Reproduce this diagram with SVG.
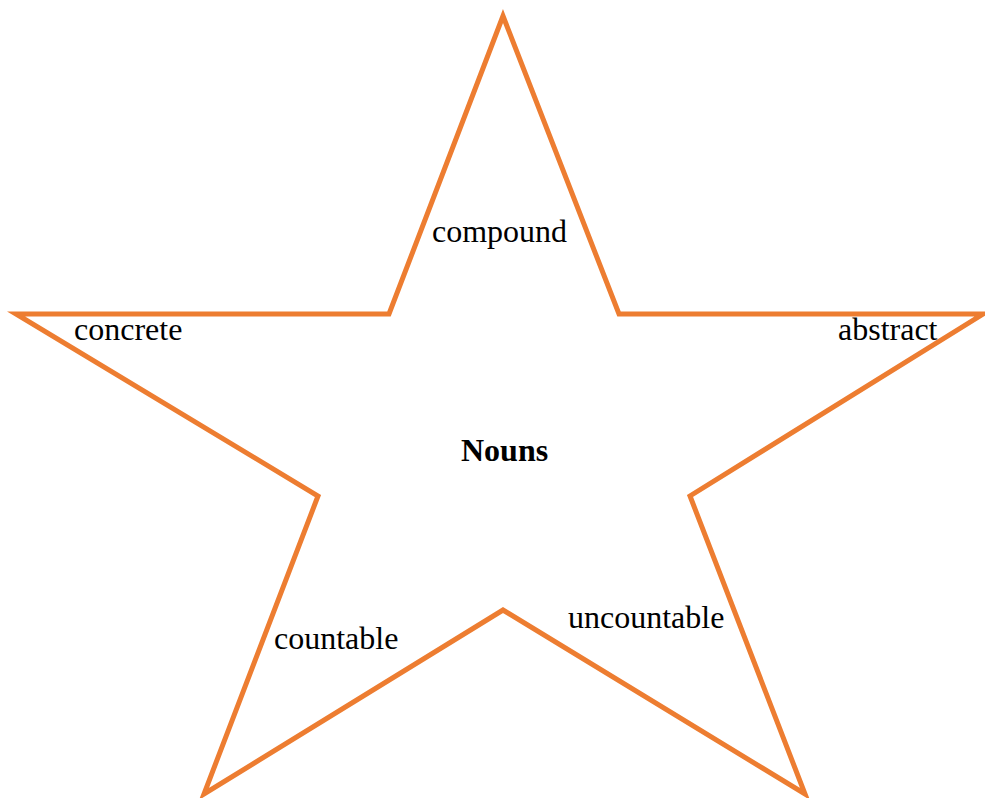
<svg xmlns="http://www.w3.org/2000/svg" width="985" height="798" viewBox="0 0 985 798">
<style>
.star{fill:none;stroke:#ED7D31;stroke-width:5;stroke-miterlimit:10}
.t{font-family:"Liberation Serif","Times New Roman",serif;font-size:32px;fill:#000}
.b{font-weight:bold}
</style>
<rect width="985" height="798" fill="#fff"/>
<g id="star">
<polygon class="star" points="503,16 389,314 16,314 318,496 204,794 503,610 805,794 690,496 983,314 619,314"/>
</g>
<g id="compound"><text class="t" x="432" y="242">compound</text></g>
<g id="concrete"><text class="t" x="74" y="340">concrete</text></g>
<g id="abstract"><text class="t" x="838" y="340">abstract</text></g>
<g id="nouns"><text class="t b" x="461" y="461">Nouns</text></g>
<g id="countable"><text class="t" x="274" y="649">countable</text></g>
<g id="uncountable"><text class="t" x="568" y="628">uncountable</text></g>
</svg>
